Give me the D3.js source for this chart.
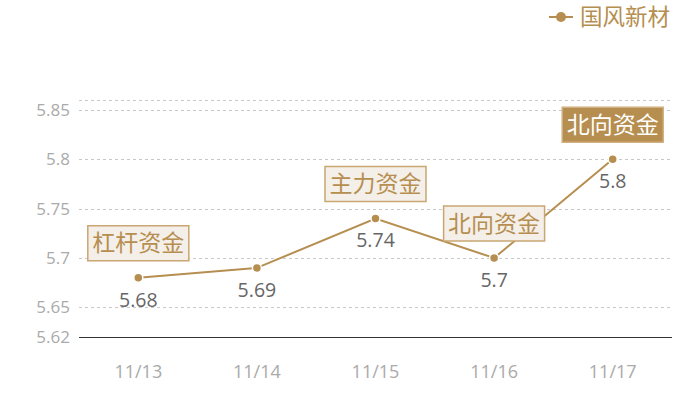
<!DOCTYPE html>
<html>
<head>
<meta charset="utf-8">
<script src="https://cdn.jsdelivr.net/npm/d3@7"></script>
<style>
  body { margin: 0; background: #fff; }
  svg { font-family: "Noto Sans CJK SC", "Open Sans", sans-serif; }
  .num { font-family: "Open Sans", "Noto Sans CJK SC", sans-serif; }
</style>
</head>
<body>
<script>
//Data
    const dates = ["11/13", "11/14", "11/15", "11/16", "11/17"];
    const values = [5.68, 5.69, 5.74, 5.7, 5.8];
    const tags = ["杠杆资金", "", "主力资金", "北向资金", "北向资金"];
    const yTicks = [5.62, 5.65, 5.7, 5.75, 5.8, 5.85];
    const seriesName = "国风新材";

//Variables
    const width = 700;
    const height = 400;
    const margin = {top: 100, right: 28, bottom: 63, left: 79};
    const gold = "#b68e4f";

    const svg = d3.select("body")
                    .append("svg")
                    .attr("width", width)
                    .attr("height", height);

    const x = d3.scaleBand()
                .domain(dates)
                .range([margin.left, width - margin.right]);
    const y = d3.scaleLinear()
                .domain([5.62, 5.86])
                .range([height - margin.bottom, margin.top]);
    const cx = d => x(d) + x.bandwidth() / 2;
    const crisp = v => Math.round(v) + 0.5;

//Grid
    svg.selectAll(".grid")
        .data(yTicks.slice(1).concat([5.86]))
        .enter()
        .append("line")
        .attr("x1", margin.left)
        .attr("x2", width - margin.right)
        .attr("y1", d => crisp(y(d)))
        .attr("y2", d => crisp(y(d)))
        .attr("stroke", "#c8c8c8")
        .attr("stroke-dasharray", "3 3");

//Y labels
    svg.selectAll(".ylab")
        .data(yTicks)
        .enter()
        .append("text")
        .attr("class", "num")
        .attr("x", 70)
        .attr("y", d => y(d))
        .attr("dy", "0.35em")
        .attr("text-anchor", "end")
        .attr("fill", "#aaa")
        .attr("font-size", 17)
        .text(d => d);

//X axis
    svg.append("line")
        .attr("x1", margin.left)
        .attr("x2", width - margin.right)
        .attr("y1", crisp(y(5.62)))
        .attr("y2", crisp(y(5.62)))
        .attr("stroke", "#333")
        .attr("stroke-width", 1);

    svg.selectAll(".xlab")
        .data(dates)
        .enter()
        .append("text")
        .attr("class", "num")
        .attr("x", d => cx(d))
        .attr("y", 372)
        .attr("dy", "0.35em")
        .attr("text-anchor", "middle")
        .attr("fill", "#aaa")
        .attr("font-size", 18)
        .text(d => d);

//Line
    const pts = dates.map((d, i) => [cx(d), y(values[i])]);
    svg.append("path")
        .attr("d", d3.line()(pts))
        .attr("fill", "none")
        .attr("stroke", gold)
        .attr("stroke-width", 2);

    svg.selectAll(".dot")
        .data(pts)
        .enter()
        .append("circle")
        .attr("cx", d => d[0])
        .attr("cy", d => d[1])
        .attr("r", 4.5)
        .attr("fill", gold)
        .attr("stroke", "#fff")
        .attr("stroke-width", 1.5);

//Value labels
    svg.selectAll(".val")
        .data(values)
        .enter()
        .append("text")
        .attr("class", "num")
        .attr("x", (d, i) => pts[i][0])
        .attr("y", (d, i) => pts[i][1] + 22)
        .attr("dy", "0.35em")
        .attr("text-anchor", "middle")
        .attr("fill", "#666")
        .attr("font-size", 19.5)
        .text(d => d);

//Tags
    const tagG = svg.selectAll(".tag")
        .data(tags.map((t, i) => ({t, i})).filter(d => d.t))
        .enter()
        .append("g")
        .attr("transform", d => `translate(${pts[d.i][0]}, ${pts[d.i][1] - 17})`);

    tagG.append("rect")
        .attr("x", -50.5)
        .attr("y", -35)
        .attr("width", 101)
        .attr("height", 35)
        .attr("fill", d => d.i === values.length - 1 ? gold : "#f4efe9")
        .attr("stroke", d => d.i === values.length - 1 ? "#d0b080" : "#c9a672")
        .attr("stroke-width", 1.5);

    tagG.append("text")
        .attr("x", 0)
        .attr("y", -17.5)
        .attr("dy", "0.35em")
        .attr("text-anchor", "middle")
        .attr("font-size", 23)
        .attr("fill", d => d.i === values.length - 1 ? "#fff" : gold)
        .text(d => d.t);

//Legend
    const leg = svg.append("g").attr("transform", "translate(549, 17)");
    leg.append("line")
        .attr("x1", 0).attr("x2", 24)
        .attr("stroke", gold)
        .attr("stroke-width", 2);
    leg.append("circle")
        .attr("cx", 12)
        .attr("r", 5)
        .attr("fill", gold);
    leg.append("text")
        .attr("x", 31)
        .attr("dy", "0.35em")
        .attr("fill", gold)
        .attr("font-size", 22.5)
        .text(seriesName);
</script>
</body>
</html>
